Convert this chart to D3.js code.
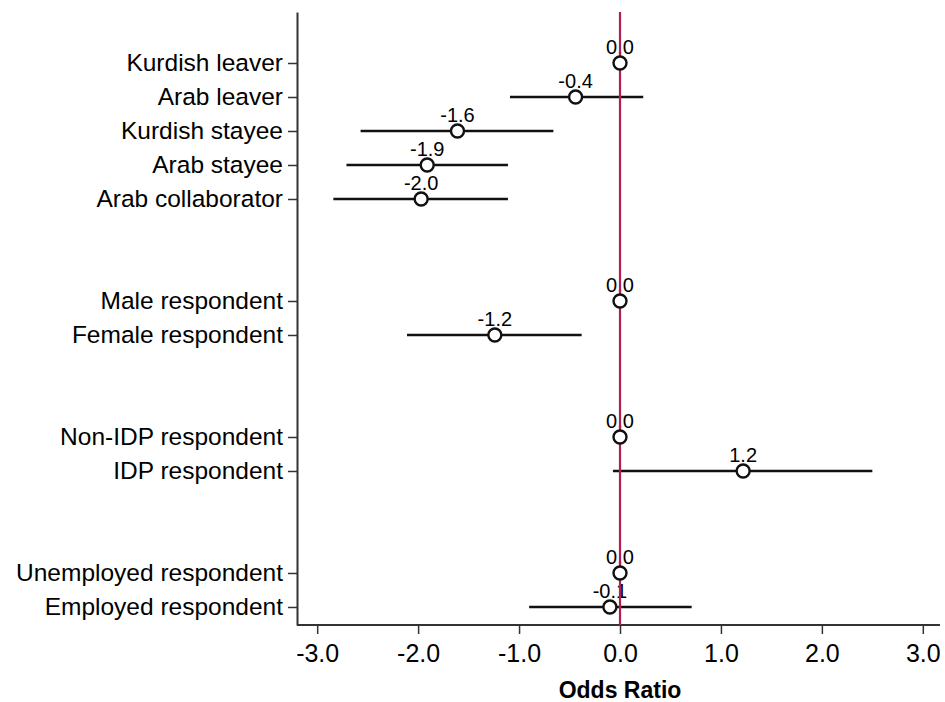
<!DOCTYPE html>
<html>
<head>
<meta charset="utf-8">
<script src="https://cdn.jsdelivr.net/npm/d3@7"></script>
<style>
  body { margin: 0; background: #fff; }
  text { font-family: "Liberation Sans", Arial, Helvetica, sans-serif; }
</style>
</head>
<body>
<div id="chart"></div>
<script>
const width = 945, height = 702
const margin = {top: 12, right: 2, bottom: 77, left: 297}

// rows (blank rows are group gaps)
const labels = ["Kurdish leaver", "Arab leaver", "Kurdish stayee", "Arab stayee", "Arab collaborator",
    "", "",
    "Male respondent", "Female respondent",
    "", "",
    "Non-IDP respondent", "IDP respondent",
    "", "",
    "Unemployed respondent", "Employed respondent"]
const estimates = [0, -0.44, -1.61, -1.91, -1.97, null, null, 0, -1.24, null, null, 0, 1.22, null, null, 0, -0.10]
const lower = [null, -1.09, -2.57, -2.71, -2.84, null, null, null, -2.11, null, null, null, -0.07, null, null, null, -0.90]
const upper = [null, 0.23, -0.66, -1.11, -1.11, null, null, null, -0.38, null, null, null, 2.50, null, null, null, 0.71]
const xTicks = [-3, -2, -1, 0, 1, 2, 3]

const rows = labels.map((l, i) => ({label: l, est: estimates[i], lo: lower[i], hi: upper[i], i: i}))

const xScale = d3.scaleLinear().domain([-3.2, 3.2]).range([margin.left, width - margin.right])
const yScale = d3.scaleLinear().domain([-1.5, 16.53]).range([margin.top, height - margin.bottom])

const svg = d3.select("#chart").append("svg")
    .attr("width", width)
    .attr("height", height)

// y axis
const yAxis = svg.append("g")
    .attr("transform", "translate(" + xScale(-3.2) + ",0)")
    .call(d3.axisLeft(yScale)
        .tickValues(rows.filter(d => d.label !== "").map(d => d.i))
        .tickFormat(i => labels[i])
        .tickSize(9).tickSizeOuter(0).tickPadding(5))
yAxis.select(".domain").attr("stroke", "#333").attr("stroke-width", 2)
yAxis.selectAll(".tick line").attr("stroke", "#333").attr("stroke-width", 1.5)
yAxis.selectAll(".tick text").attr("font-size", 24.5).attr("fill", "#000")
    .attr("font-family", "'Liberation Sans', Arial, sans-serif")

// x axis
const xAxis = svg.append("g")
    .attr("transform", "translate(0," + yScale(16.53) + ")")
    .call(d3.axisBottom(xScale)
        .tickValues(xTicks)
        .tickFormat(d3.format(".1f"))
        .tickSize(9).tickSizeOuter(0).tickPadding(10))
xAxis.select(".domain").attr("stroke", "#333").attr("stroke-width", 2)
    .attr("d", "M" + xScale(-3.2) + ",0H" + (xScale(3.2) - 3))
xAxis.selectAll(".tick line").attr("stroke", "#333").attr("stroke-width", 1.5)
xAxis.selectAll(".tick text").attr("font-size", 25).attr("fill", "#000")
    .attr("font-family", "'Liberation Sans', Arial, sans-serif")
    .text(d => d3.format(".1f")(d).replace("−", "-"))

svg.append("text")
    .attr("x", xScale(0))
    .attr("y", 698)
    .attr("text-anchor", "middle")
    .attr("font-size", 23)
    .attr("font-weight", "bold")
    .attr("fill", "#000")
    .text("Odds Ratio")

const pts = rows.filter(d => d.est !== null)

// confidence intervals
svg.selectAll(".ci")
    .data(pts.filter(d => d.lo !== null))
    .enter().append("line")
    .attr("class", "ci")
    .attr("x1", d => xScale(d.lo))
    .attr("x2", d => xScale(d.hi))
    .attr("y1", d => yScale(d.i))
    .attr("y2", d => yScale(d.i))
    .attr("stroke", "#111")
    .attr("stroke-width", 2.6)

// value labels
svg.selectAll(".val")
    .data(pts)
    .enter().append("text")
    .attr("class", "val")
    .attr("x", d => xScale(d.est))
    .attr("y", d => yScale(d.i) - 9)
    .attr("text-anchor", "middle")
    .attr("font-size", 20)
    .attr("fill", "#000")
    .text(d => d3.format(".1f")(d.est).replace("−", "-"))

// reference line at zero
svg.append("line")
    .attr("x1", xScale(0))
    .attr("x2", xScale(0))
    .attr("y1", yScale(-1.5))
    .attr("y2", yScale(16.53))
    .attr("stroke", "#b01f4e")
    .attr("stroke-width", 2.2)

// point estimates
svg.selectAll(".pt")
    .data(pts)
    .enter().append("circle")
    .attr("class", "pt")
    .attr("cx", d => xScale(d.est))
    .attr("cy", d => yScale(d.i))
    .attr("r", 6.5)
    .attr("fill", "#fff")
    .attr("stroke", "#111")
    .attr("stroke-width", 2.4)
</script>
</body>
</html>
